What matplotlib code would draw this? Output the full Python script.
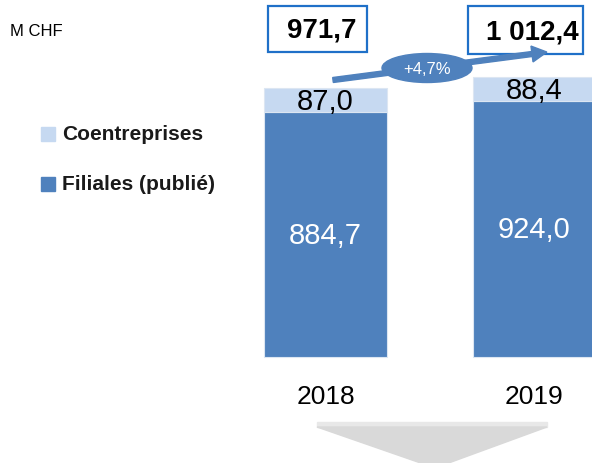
import matplotlib.pyplot as plt
from matplotlib.patches import Rectangle, Ellipse, FancyArrow, Polygon
from matplotlib.transforms import Affine2D

plt.rcParams['font.family'] = ['Liberation Sans', 'DejaVu Sans']

# Data (M CHF)
years = ['2018', '2019']
filiales = [884.7, 924.0]
coentreprises = [87.0, 88.4]
totals = ['971,7', '1 012,4']
growth = '+4,7%'
series_names = ['Coentreprises', 'Filiales (publié)']
unit = 'M CHF'

dark = '#4f81bd'
light = '#c6d9f1'
box_blue = '#1f70c8'

W, H = 592, 464
fig = plt.figure(figsize=(W / 100, H / 100), dpi=100)
ax = fig.add_axes([0, 0, 1, 1])
ax.set_xlim(-325.5 / 209, (W - 325.5) / 209)
ax.set_ylim(-106 / 0.27693, (H - 106) / 0.27693)
ax.axis('off')

# pixel coords, origin top-left
px = Affine2D().scale(1 / W, -1 / H).translate(0, 1) + fig.transFigure

x = range(len(years))
bw = 123 / 209
ax.bar(x, filiales, width=bw, color=dark, edgecolor='#dce6f2', linewidth=0.8)
ax.bar(x, coentreprises, width=bw, bottom=filiales, color=light,
       edgecolor='#dce6f2', linewidth=0.8)

def fmt(v):
    return f'{v:.1f}'.replace('.', ',')

for i in x:
    ax.text(i, filiales[i] / 2, fmt(filiales[i]), ha='center', va='center',
            color='white', fontsize=21)
    ax.text(i, filiales[i] + coentreprises[i] / 2 - 4, fmt(coentreprises[i]),
            ha='center', va='center', color='black', fontsize=21)
    ax.text(i, -142, years[i], ha='center', va='center', fontsize=19)

# total boxes
boxes = [(268, 7, 99, 46, 322), (468, 7, 115, 48, 532)]
for (bx, by, bwid, bh, tx), t in zip(boxes, totals):
    fig.patches.append(Rectangle((bx, by), bwid, bh, transform=px, fill=False,
                                 edgecolor=box_blue, linewidth=1.6))
    fig.text(tx, by + bh / 2 + 1, t, transform=px, ha='center', va='center',
             fontsize=20, fontweight='bold')

# growth arrow + ellipse
fig.patches.append(FancyArrow(333, 81, 214 - 15, -28 + 2, width=5, head_width=16,
                              head_length=15, length_includes_head=False,
                              color=dark, transform=px))
fig.patches.append(Ellipse((427, 69), 90, 29, color=dark, transform=px))
fig.text(427, 70, growth, transform=px, ha='center', va='center',
         color='white', fontsize=12)

# unit
fig.text(10, 31, unit, transform=px, ha='left', va='center', fontsize=12)

# legend
for (sy, col, name) in [(128, light, series_names[0]), (178, dark, series_names[1])]:
    fig.patches.append(Rectangle((41, sy), 14, 14, transform=px, color=col))
    fig.text(62, sy + 7, name, transform=px, ha='left', va='center',
             fontsize=15, fontweight='bold', color='#1a1a1a')

# grey down arrow at bottom
fig.patches.append(Polygon([(317, 423), (547, 423), (547, 428), (317, 428)],
                           closed=True, color='#e8e8e8', transform=px))
fig.patches.append(Polygon([(317, 428), (547, 428), (435, 469)],
                           closed=True, color='#d9d9d9', transform=px))

fig.savefig('out.png', dpi=100)
